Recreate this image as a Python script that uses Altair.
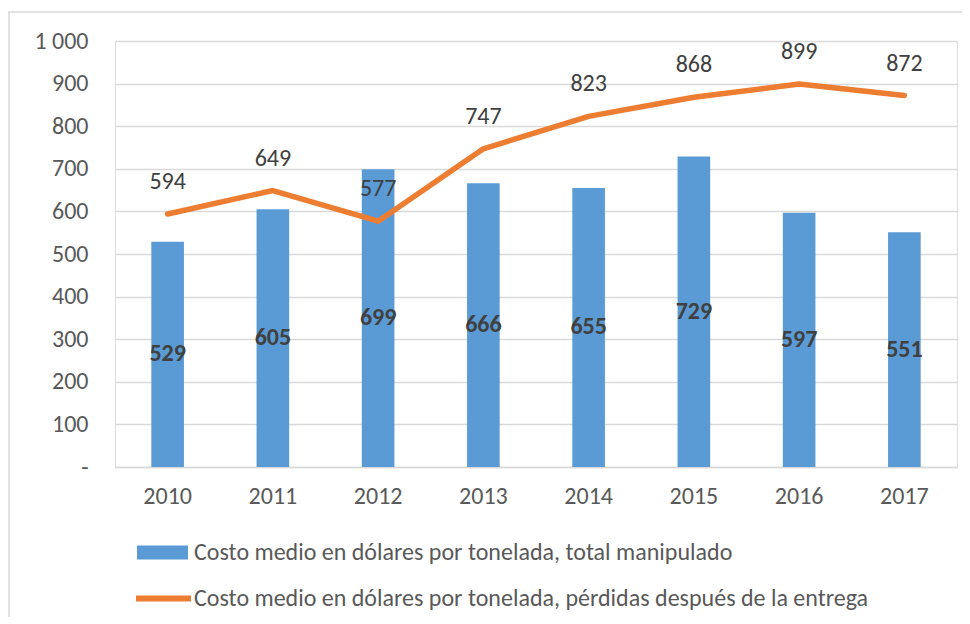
import altair as alt
import pandas as pd

years = ["2010", "2011", "2012", "2013", "2014", "2015", "2016", "2017"]
total_manipulado = [529, 605, 699, 666, 655, 729, 597, 551]
perdidas_entrega = [594, 649, 577, 747, 823, 868, 899, 872]
bar_name = "Costo medio en dólares por tonelada, total manipulado"
line_name = "Costo medio en dólares por tonelada, pérdidas después de la entrega"

df = pd.DataFrame({"year": years, "bar": total_manipulado, "line": perdidas_entrega})
df["bar_mid"] = df["bar"] / 2

FONT = "Carlito, Calibri, Liberation Sans, sans-serif"
FS = 24

x = alt.X("year:N", title=None, scale=alt.Scale(paddingInner=0.69, paddingOuter=0.345),
          axis=alt.Axis(labelAngle=0, ticks=False, domainColor="#D9D9D9", domainWidth=1.5,
                        labelFontSize=FS, labelColor="#595959", labelPadding=17, labelFont=FONT))
yscale = alt.Scale(domain=[0, 1000], nice=False)

bars = alt.Chart(df).mark_bar(color="#5B9BD5").encode(
    x=x,
    y=alt.Y("bar:Q", scale=yscale, title=None,
            axis=alt.Axis(values=list(range(0, 1001, 100)), ticks=False, domain=False,
                          gridColor="#D9D9D9", gridWidth=1.5,
                          labelFontSize=FS, labelColor="#595959", labelPadding=27, labelFont=FONT,
                          labelExpr="datum.value == 0 ? '-' : replace(format(datum.value, ',d'), ',', ' ')")),
    fill=alt.Fill("s:N", scale=alt.Scale(domain=[bar_name], range=["#5B9BD5"]),
                  legend=alt.Legend(title=None, orient="none", legendX=22, legendY=486,
                                    symbolType="M-1,-0.275H1V0.275H-1Z", symbolSize=2601,
                                    symbolStrokeWidth=0, labelFontSize=FS, labelColor="#595959",
                                    labelFont=FONT, labelOffset=6, labelLimit=900)),
).transform_calculate(s=f"'{bar_name}'")

bar_text = alt.Chart(df).mark_text(fontSize=FS, fontWeight="bold", color="#404040", font=FONT).encode(
    x="year:N", y=alt.Y("bar_mid:Q", scale=yscale), text="bar:Q")

line = alt.Chart(df).mark_line(strokeWidth=5.5, strokeCap="round", strokeJoin="round").encode(
    x="year:N", y=alt.Y("line:Q", scale=yscale),
    stroke=alt.Stroke("s:N", scale=alt.Scale(domain=[line_name], range=["#ED7D31"]),
                      legend=alt.Legend(title=None, orient="none", legendX=18, legendY=527,
                                        symbolType="stroke", symbolSize=3025, symbolStrokeWidth=6,
                                        labelFontSize=FS, labelColor="#595959", labelFont=FONT,
                                        labelOffset=0, labelLimit=900)),
).transform_calculate(s=f"'{line_name}'")

line_text = alt.Chart(df).mark_text(fontSize=FS, color="#404040", dy=-32, font=FONT).encode(
    x="year:N", y=alt.Y("line:Q", scale=yscale), text="line:Q")

border_top = alt.Chart(df.head(1)).mark_rule(color="#D9D9D9", strokeWidth=1.5).encode(
    x=alt.value(-107), x2=alt.value(860), y=alt.value(-29))
border_left = alt.Chart(df.head(1)).mark_rule(color="#D9D9D9", strokeWidth=1.5).encode(
    x=alt.value(-106), y=alt.value(-29), y2=alt.value(580))

chart = alt.layer(border_top, border_left, bars, bar_text, line, line_text).resolve_scale(
    fill="independent", stroke="independent").properties(
    width=842, height=426,
    autosize=alt.AutoSizeParams(type="none"),
    padding={"left": 107, "top": 33, "right": 5, "bottom": 150},
).configure_view(stroke=None).configure(background="white")

chart.save("out.html", embed_options={"renderer": "svg", "actions": False})
